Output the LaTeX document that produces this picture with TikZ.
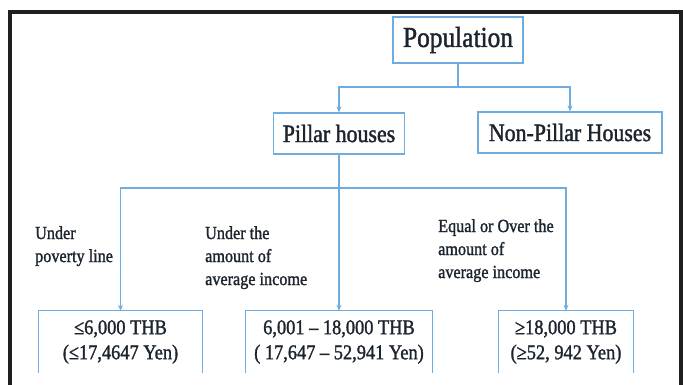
\documentclass[tikz,border=0pt]{standalone}
\usepackage{fontspec}
\setmainfont{Liberation Serif}[FakeStretch=0.875,FakeBold=1.4]
\usetikzlibrary{arrows.meta}
\definecolor{linkblue}{RGB}{110,172,225}
\definecolor{inkdark}{RGB}{28,36,46}
\begin{document}
\begin{tikzpicture}[x=1pt,y=-1pt,
  boxline/.style={draw=linkblue,line width=1.2pt},
  topbox/.style={boxline,inner sep=0pt,text=inkdark,align=center},
  lowbox/.style={inner sep=0pt,text=inkdark,align=center,minimum width=#1,minimum height=62pt,font=\fontsize{21}{25}\selectfont},
  lbl/.style={inner sep=0pt,text=inkdark,align=left,anchor=north west,font=\fontsize{18.5}{23}\selectfont},
  conn/.style={draw=linkblue,line width=1.2pt},
  arr/.style={conn,-{Stealth[length=6pt,width=5pt]}},
  frame/.style={draw=black!88,line width=3.5pt}
]
\useasboundingbox (0,0) rectangle (683,385);
\fill[white] (0,0) rectangle (683,385);
% outer frame
\coordinate (f1) at (10,385);
\coordinate (f2) at (10,12);
\coordinate (f3) at (681,12);
\coordinate (f4) at (681,385);
\draw[frame] (f1) -- (f2) -- (f3) -- (f4);

% top boxes
\node[topbox,minimum width=130pt,minimum height=46pt,font=\fontsize{29}{32}\selectfont] (pop) at (458,40) {Population};
\node[topbox,minimum width=131pt,minimum height=41pt,font=\fontsize{25}{28}\selectfont] (pillar) at (339,133.5) {Pillar houses};
\node[topbox,minimum width=184pt,minimum height=41pt,font=\fontsize{25}{28}\selectfont] (nonpillar) at (570,132.5) {Non-Pillar Houses};

% bottom boxes (open at the bottom)
\node[lowbox=163pt] (b1) at (120.5,342) {≤6,000 THB\\(≤17,4647 Yen)};
\node[lowbox=187pt] (b2) at (339,342) {6,001 – 18,000 THB\\( 17,647 – 52,941 Yen)};
\node[lowbox=134pt] (b3) at (566,342) {≥18,000 THB\\(≥52, 942 Yen)};
\foreach \b in {b1,b2,b3}{
  \draw[boxline] (\b.south west) |- (\b.north east) -- (\b.south east);
}

% labels
\node[lbl] (l1) at (35,226) {Under\\poverty line};
\node[lbl] (l2) at (205,226) {Under the\\amount of\\average income};
\node[lbl] (l3) at (438,219) {Equal or Over the\\amount of\\average income};

% connectors
\coordinate (j1) at (458,87);
\coordinate (j2) at (339,188);
\draw[conn] (pop.south) -- (j1);
\draw[arr] (j1) -| (pillar.north);
\draw[arr] (j1) -| (nonpillar.north);
\draw[conn] (pillar.south) -- (j2);
\draw[arr] (j2) -| (b1.north);
\draw[arr] (j2) -- (b2.north);
\draw[arr] (j2) -| (b3.north);
\end{tikzpicture}
\end{document}
